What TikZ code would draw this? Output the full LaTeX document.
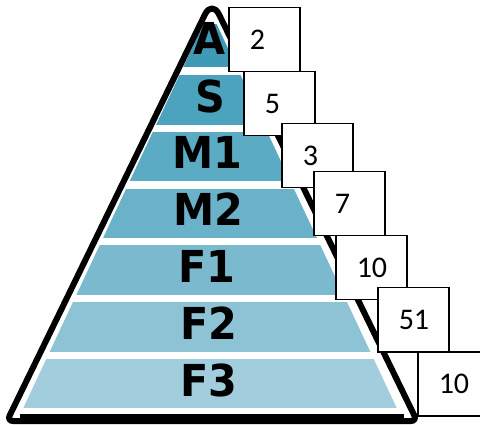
\documentclass[tikz,border=0pt]{standalone}
\usepackage{fontspec}
\usepackage{xcolor}
\newfontfamily\tierfont{DejaVu Sans}[FakeStretch=0.94]
\newfontfamily\countfont{Carlito}
\definecolor{tierA}{RGB}{62,154,181}
\definecolor{tierS}{RGB}{76,163,190}
\definecolor{tierMone}{RGB}{91,171,196}
\definecolor{tierMtwo}{RGB}{106,178,201}
\definecolor{tierFone}{RGB}{123,185,206}
\definecolor{tierFtwo}{RGB}{142,195,213}
\definecolor{tierFthree}{RGB}{162,205,220}
\tikzset{
    tier/.style={anchor=base, inner sep=0pt, font=\tierfont\bfseries\fontsize{44}{50}\selectfont},
    countbox/.style={rectangle, draw, line width=1.5pt, fill=white, anchor=north west, minimum width=71pt, minimum height=64pt, text width=29pt, inner xsep=21pt, align=left, font=\countfont\fontsize{30}{34}\selectfont},
    pyramidedge/.style={draw, line width=6pt, line join=round}
}
\begin{document}
\begin{tikzpicture}[x=1pt, y=-1pt]
    \clip (0,0) rectangle (480,425);

    % Pyramid layers
    \begin{scope}
        \clip (210,10) -- (20,415) -- (400,415) -- cycle;
        \fill[tierA] (0,24) rectangle (480,67);
        \fill[tierS] (0,75) rectangle (480,125);
        \fill[tierMone] (0,132) rectangle (480,181);
        \fill[tierMtwo] (0,189) rectangle (480,238);
        \fill[tierFone] (0,245) rectangle (480,295);
        \fill[tierFtwo] (0,302) rectangle (480,352);
        \fill[tierFthree] (0,359) rectangle (480,408);
    \end{scope}
    \path[pyramidedge] (109.5,210.5) [rounded corners=16pt] -- (212,0) [rounded corners=6pt] -- (417,421) -- (7,421) -- cycle;
    \draw[line width=9pt] (20,418) -- (404,418);

    % Layer names
    \node[tier] (lA) at (210,55) {A};
    \node[tier] (lS) at (210,113) {S};
    \node[tier] (lMone) at (207,169) {M1};
    \node[tier] (lMtwo) at (208,226) {M2};
    \node[tier] (lFone) at (207,283) {F1};
    \node[tier] (lFtwo) at (209,340) {F2};
    \node[tier] (lFthree) at (209,396) {F3};

    % Counts per layer
    \node[countbox] (cA) at (228,7) {2};
    \node[countbox] (cS) at (243,71) {5};
    \node[countbox] (cMone) at (281,123) {3};
    \node[countbox] (cMtwo) at (313,171) {7};
    \node[countbox] (cFone) at (335,235) {10};
    \node[countbox] (cFtwo) at (377,287) {51};
    \node[countbox] (cFthree) at (417,351) {10};
\end{tikzpicture}
\end{document}
